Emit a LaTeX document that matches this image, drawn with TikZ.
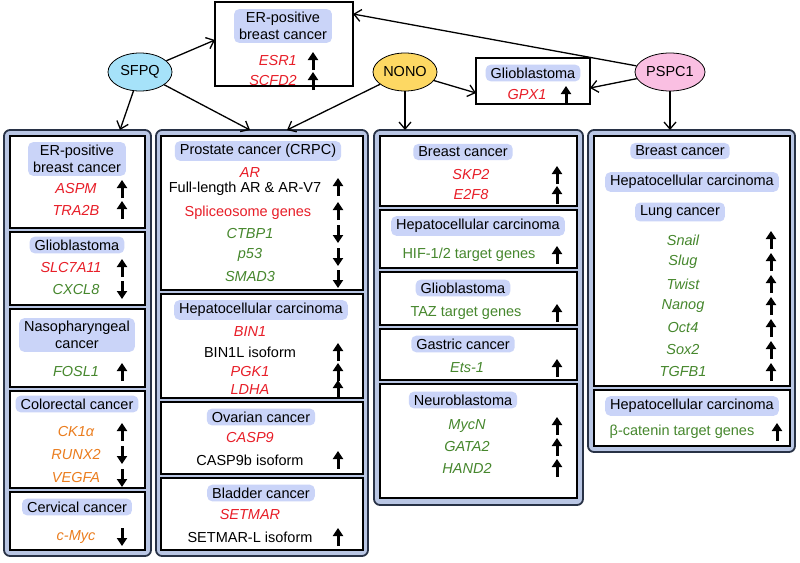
\documentclass[tikz,border=0pt]{standalone}
\usepackage{fontspec}
\setmainfont{Liberation Sans}
\usetikzlibrary{arrows.meta,shapes.geometric}
\definecolor{labfill}{RGB}{202,212,248}
\definecolor{colfill}{RGB}{185,198,228}
\definecolor{colline}{RGB}{40,50,70}
\definecolor{gred}{RGB}{232,30,40}
\definecolor{ggreen}{RGB}{70,135,45}
\definecolor{gorange}{RGB}{235,125,30}
\tikzset{
    protein/.style={
        ellipse,
        draw,
        thick,
        minimum width=64pt,
        minimum height=38pt,
        inner sep=0,
        font=\fontsize{14.5}{16}\selectfont
    },
    column/.style={
        draw=colline,
        fill=colfill,
        line width=1.8pt,
        rounded corners=6pt
    },
    panel/.style={
        draw,
        fill=white,
        line width=1.6pt
    },
    tag/.style={
        fill=labfill,
        rounded corners=5pt,
        inner xsep=5pt,
        inner ysep=3pt,
        align=center,
        font=\fontsize{14.5}{17}\selectfont
    },
    gene/.style={
        inner sep=0,
        font=\fontsize{14.5}{16}\selectfont\itshape
    },
    plain/.style={
        inner sep=0,
        font=\fontsize{14.5}{16}\selectfont
    },
    link/.style={
        -{Straight Barb[length=7pt,width=12pt]},
        line width=1.3pt
    },
    trendmark/.style={
        -{Triangle[length=8pt,width=10pt]},
        line width=3pt
    }
}
% small up / down arrows next to the genes
\newcommand{\upmark}[2]{\draw[trendmark] (#1,#2+9) -- (#1,#2-9);}
\newcommand{\dnmark}[2]{\draw[trendmark] (#1,#2-9) -- (#1,#2+9);}

\begin{document}
\begin{tikzpicture}[x=1pt,y=-1pt]
    \useasboundingbox (0,0) rectangle (800,562);

    % top row
    \node[protein,fill=cyan!35] (sfpq) at (140,72) {SFPQ};
    \node[protein,fill=yellow!55!orange!60] (nono) at (405,72) {NONO};
    \node[protein,fill=magenta!25,minimum width=70pt] (pspc) at (670,72) {PSPC1};

    \draw[panel] (215,2) rectangle (353,86);
    \coordinate (erl) at (215,40);
    \coordinate (err) at (353,14);
    \node[tag] (er) at (283,26) {ER-positive\\breast cancer};
    \node[gene,gred,anchor=east] (esr) at (297,61) {ESR1};
    \node[gene,gred,anchor=east] (scfd) at (297,81) {SCFD2};
    \upmark{313}{61} \upmark{313}{81}

    \draw[panel] (476,58) rectangle (590,104);
    \coordinate (gbl) at (476,93);
    \coordinate (gbr) at (590,88);
    \node[tag] (gb) at (533,73) {Glioblastoma};
    \node[gene,gred] (gpx) at (527,95) {GPX1};
    \upmark{566}{95}

    % columns
    \draw[column] (4,130) rectangle (151,556);
    \draw[column] (156,130) rectangle (368,556);
    \draw[column] (374,130) rectangle (583,505);
    \draw[column] (588,130) rectangle (795,452);
    \coordinate (c1) at (120,130);
    \coordinate (c2) at (250,130);
    \coordinate (c2b) at (287,130);
    \coordinate (c3) at (405,130);
    \coordinate (c4) at (670,130);

    \draw[link] (sfpq) -- (erl);
    \draw[link] (sfpq) -- (c1);
    \draw[link] (sfpq) -- (c2);
    \draw[link] (nono) -- (c2b);
    \draw[link] (nono) -- (c3);
    \draw[link] (nono) -- (gbl);
    \draw[link] (pspc) -- (err);
    \draw[link] (pspc) -- (gbr);
    \draw[link] (pspc) -- (c4);

    % column 1
    \draw[panel] (10,136) rectangle (145,228);
    \node[tag] (t1) at (77,159) {ER-positive\\breast cancer};
    \node[gene,gred] (g1) at (76,189) {ASPM};
    \node[gene,gred] (g2) at (76,210) {TRA2B};
    \upmark{122}{189} \upmark{122}{210}
    \draw[panel] (10,232) rectangle (145,305);
    \node[tag] (t2) at (77,245) {Glioblastoma};
    \node[gene,gred] (g3) at (71,268) {SLC7A11};
    \node[gene,ggreen] (g4) at (76,290) {CXCL8};
    \upmark{122}{268} \dnmark{122}{290}
    \draw[panel] (10,309) rectangle (145,387);
    \node[tag] (t3) at (77,335) {Nasopharyngeal\\cancer};
    \node[gene,ggreen] (g5) at (76,372) {FOSL1};
    \upmark{122}{372}
    \draw[panel] (10,391) rectangle (145,488);
    \node[tag] (t4) at (77,404) {Colorectal cancer};
    \node[gene,gorange] (g6) at (76,432) {CK1α};
    \node[gene,gorange] (g7) at (76,455) {RUNX2};
    \node[gene,gorange] (g8) at (76,478) {VEGFA};
    \upmark{122}{432} \dnmark{122}{455} \dnmark{122}{478}
    \draw[panel] (10,492) rectangle (145,550);
    \node[tag] (t5) at (77,507) {Cervical cancer};
    \node[gene,gorange] (g9) at (76,537) {c-Myc};
    \dnmark{122}{537}

    % column 2
    \draw[panel] (161,136) rectangle (363,290);
    \node[tag] (t6) at (258,151) {Prostate cancer (CRPC)};
    \node[gene,gred] (g10) at (250,173) {AR};
    \node[plain] (g11) at (245,189) {Full-length AR \& AR-V7};
    \node[plain,gred] (g12) at (248,213) {Spliceosome genes};
    \node[gene,ggreen] (g13) at (250,234) {CTBP1};
    \node[gene,ggreen] (g14) at (250,255) {p53};
    \node[gene,ggreen] (g15) at (250,277) {SMAD3};
    \upmark{338}{187} \upmark{338}{211} \dnmark{338}{234}
    \dnmark{338}{257} \dnmark{338}{279}
    \draw[panel] (161,294) rectangle (363,398);
    \node[tag] (t7) at (261,310) {Hepatocellular carcinoma};
    \node[gene,gred] (g16) at (250,332) {BIN1};
    \node[plain] (g17) at (250,352) {BIN1L isoform};
    \node[gene,gred] (g18) at (250,372) {PGK1};
    \node[gene,gred] (g19) at (250,390) {LDHA};
    \upmark{338}{352} \upmark{338}{372} \upmark{338}{389}
    \draw[panel] (161,402) rectangle (363,474);
    \node[tag] (t8) at (261,417) {Ovarian cancer};
    \node[gene,gred] (g20) at (250,438) {CASP9};
    \node[plain] (g21) at (250,460) {CASP9b isoform};
    \upmark{338}{460}
    \draw[panel] (161,478) rectangle (363,550);
    \node[tag] (t9) at (261,493) {Bladder cancer};
    \node[gene,gred] (g22) at (250,515) {SETMAR};
    \node[plain] (g23) at (250,537) {SETMAR-L isoform};
    \upmark{338}{537}

    % column 3
    \draw[panel] (380,136) rectangle (577,206);
    \node[tag] (t10) at (463,152) {Breast cancer};
    \node[gene,gred] (g24) at (471,175) {SKP2};
    \node[gene,gred] (g25) at (471,195) {E2F8};
    \upmark{557}{175} \upmark{557}{195}
    \draw[panel] (380,210) rectangle (577,268);
    \node[tag] (t11) at (478,226) {Hepatocellular carcinoma};
    \node[plain,ggreen] (g26) at (469,255) {HIF-1/2 target genes};
    \upmark{557}{255}
    \draw[panel] (380,272) rectangle (577,325);
    \node[tag] (t12) at (463,288) {Glioblastoma};
    \node[plain,ggreen] (g27) at (466,313) {TAZ target genes};
    \upmark{557}{313}
    \draw[panel] (380,329) rectangle (577,380);
    \node[tag] (t13) at (463,344) {Gastric cancer};
    \node[gene,ggreen] (g28) at (467,368) {Ets-1};
    \upmark{557}{368}
    \draw[panel] (380,384) rectangle (577,498);
    \node[tag] (t14) at (463,400) {Neuroblastoma};
    \node[gene,ggreen] (g29) at (467,426) {MycN};
    \node[gene,ggreen] (g30) at (467,447) {GATA2};
    \node[gene,ggreen] (g31) at (467,468) {HAND2};
    \upmark{557}{426} \upmark{557}{447} \upmark{557}{468}

    % column 4
    \draw[panel] (594,136) rectangle (790,386);
    \node[tag] (t15) at (680,151) {Breast cancer};
    \node[tag] (t16) at (692,182) {Hepatocellular carcinoma};
    \node[tag] (t17) at (680,212) {Lung cancer};
    \foreach \g/\y [count=\i] in {Snail/240,Slug/262,Twist/284,Nanog/306,Oct4/328,Sox2/350,TGFB1/372}{
        \node[gene,ggreen] (lg\i) at (683,\y) {\g};
        \upmark{771}{\y}
    }
    \draw[panel] (594,390) rectangle (790,446);
    \node[tag] (t18) at (692,406) {Hepatocellular carcinoma};
    \node[plain,ggreen] (g32) at (682,432) {β-catenin target genes};
    \upmark{777}{432}
\end{tikzpicture}
\end{document}
